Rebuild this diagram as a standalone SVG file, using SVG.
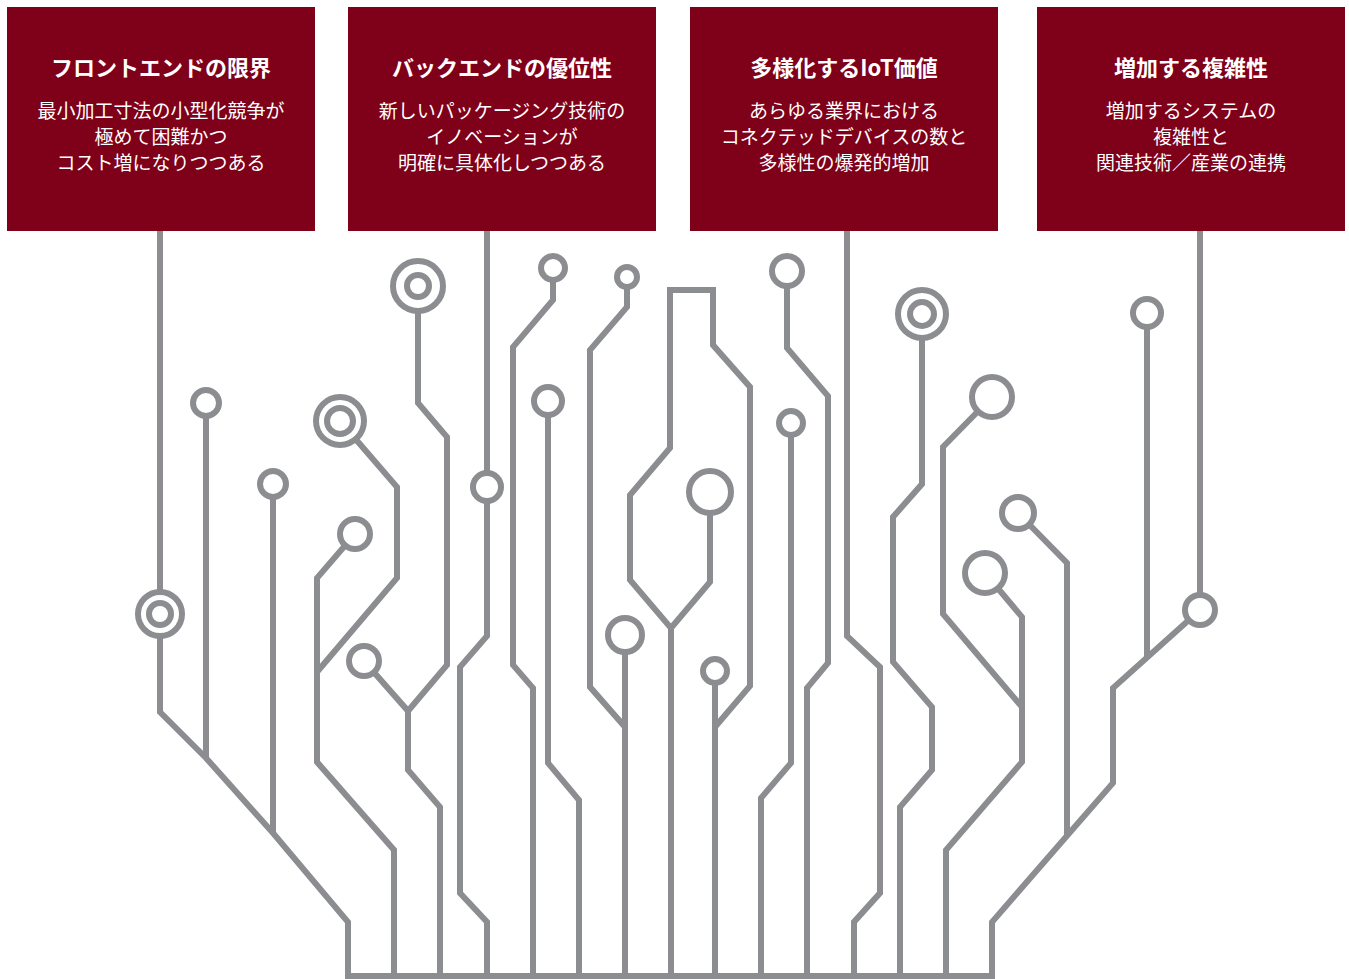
<svg xmlns="http://www.w3.org/2000/svg" width="1349" height="979" viewBox="0 0 1349 979">
  <style>
    .box { fill: #7f0019; }
    .title { font-family: "Noto Sans CJK JP", "Noto Sans", sans-serif; font-size: 22px; font-weight: bold; fill: #ffffff; text-anchor: middle; }
    .body { font-family: "Noto Sans CJK JP", "Noto Sans", sans-serif; font-size: 19px; fill: #ffffff; text-anchor: middle; }
    .trace { fill: none; stroke: #8c8d91; stroke-width: 6; stroke-linejoin: miter; stroke-miterlimit: 10; }
    .pad { fill: #ffffff; stroke: #8c8d91; stroke-width: 6; }
  </style>

  <!-- headline boxes -->
  <g id="node-frontend">
    <rect class="box" x="7" y="7" width="308" height="224"/>
    <text class="title" x="161" y="76">フロントエンドの限界</text>
    <text class="body" x="161" y="118">最小加工寸法の小型化競争が</text>
    <text class="body" x="161" y="144">極めて困難かつ</text>
    <text class="body" x="161" y="170">コスト増になりつつある</text>
  </g>
  <g id="node-backend">
    <rect class="box" x="348" y="7" width="308" height="224"/>
    <text class="title" x="502" y="76">バックエンドの優位性</text>
    <text class="body" x="502" y="118">新しいパッケージング技術の</text>
    <text class="body" x="502" y="144">イノベーションが</text>
    <text class="body" x="502" y="170">明確に具体化しつつある</text>
  </g>
  <g id="node-iot">
    <rect class="box" x="690" y="7" width="308" height="224"/>
    <text class="title" x="844" y="76">多様化するIoT価値</text>
    <text class="body" x="844" y="118">あらゆる業界における</text>
    <text class="body" x="844" y="144">コネクテッドデバイスの数と</text>
    <text class="body" x="844" y="170">多様性の爆発的増加</text>
  </g>
  <g id="node-complexity">
    <rect class="box" x="1037" y="7" width="308" height="224"/>
    <text class="title" x="1191" y="76">増加する複雑性</text>
    <text class="body" x="1191" y="118">増加するシステムの</text>
    <text class="body" x="1191" y="144">複雑性と</text>
    <text class="body" x="1191" y="170">関連技術／産業の連携</text>
  </g>

  <!-- circuit traces -->
  <g id="connectors" class="trace">
    <path d="M160,231 V712 L206,758 L273,833 L348,922 V976 H992 V922 L1113,783 V688 L1200,610"/>
    <path d="M206,403 V758"/>
    <path d="M273,484 V833"/>
    <path d="M394,976 V850 L317,762 V578 L355,534"/>
    <path d="M317,672 L397,578 V487 L340,421"/>
    <path d="M440,976 V807 L408,770 V711 L364,661"/>
    <path d="M408,711 L447,665 V437 L418,403 V286"/>
    <path d="M487,231 V636 L460,667 V893 L487,922 V976"/>
    <path d="M533,976 V688 L513,665 V347 L553,300 V268"/>
    <path d="M579,976 V800 L548,763 V401"/>
    <path d="M625,976 V635"/>
    <path d="M625,727 L590,687 V350 L627,307 V277"/>
    <path d="M671,976 V628 L630,580 V495 L670,448 V290 H713 V345 L750,387 V686 L715,727"/>
    <path d="M671,628 L710,582 V492"/>
    <path d="M715,976 V671"/>
    <path d="M761,976 V798 L791,763 V423"/>
    <path d="M807,976 V688 L828,663 V396 L787,348 V271"/>
    <path d="M847,231 V636 L880,667 V893 L854,922 V976"/>
    <path d="M900,976 V807 L932,770 V707 L893,662 V517 L922,484 V314"/>
    <path d="M946,976 V850 L1022,762 V617 L985,573"/>
    <path d="M992,397 L943,447 V614 L1022,707"/>
    <path d="M1200,231 V610"/>
    <path d="M1147,313 V657"/>
    <path d="M1067,836 V563 L1018,513"/>
  </g>

  <!-- pads -->
  <g id="pads">
    <circle class="pad" cx="160" cy="614" r="22"/><circle class="pad" cx="160" cy="614" r="11"/>
    <circle class="pad" cx="206" cy="403" r="13"/>
    <circle class="pad" cx="273" cy="484" r="13"/>
    <circle class="pad" cx="355" cy="534" r="15"/>
    <circle class="pad" cx="340" cy="421" r="24"/><circle class="pad" cx="340" cy="421" r="13"/>
    <circle class="pad" cx="364" cy="661" r="15"/>
    <circle class="pad" cx="418" cy="286" r="25"/><circle class="pad" cx="418" cy="286" r="11"/>
    <circle class="pad" cx="487" cy="487" r="14"/>
    <circle class="pad" cx="553" cy="268" r="12"/>
    <circle class="pad" cx="548" cy="401" r="14"/>
    <circle class="pad" cx="625" cy="635" r="17"/>
    <circle class="pad" cx="627" cy="277" r="10"/>
    <circle class="pad" cx="710" cy="492" r="21"/>
    <circle class="pad" cx="715" cy="671" r="12"/>
    <circle class="pad" cx="791" cy="423" r="12"/>
    <circle class="pad" cx="787" cy="271" r="15"/>
    <circle class="pad" cx="922" cy="314" r="24"/><circle class="pad" cx="922" cy="314" r="12"/>
    <circle class="pad" cx="992" cy="397" r="20"/>
    <circle class="pad" cx="1018" cy="513" r="16"/>
    <circle class="pad" cx="985" cy="573" r="20"/>
    <circle class="pad" cx="1147" cy="313" r="14"/>
    <circle class="pad" cx="1200" cy="610" r="15"/>
  </g>
</svg>
